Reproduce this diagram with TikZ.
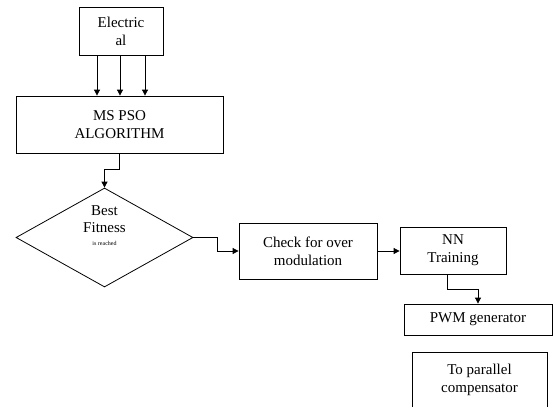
\documentclass[tikz,border=0pt]{standalone}
\usepackage{fontspec}
\setmainfont{Liberation Serif}
\usetikzlibrary{shapes.geometric, arrows.meta}

\begin{document}
\begin{tikzpicture}[->, >={Triangle[length=6pt, width=6pt]}, x=1pt, y=-1pt,
    block/.style={draw, thick, rectangle, align=center, inner sep=0pt,
      font=\fontsize{15}{18}\selectfont}]
    \useasboundingbox (0, 0) rectangle (557, 407);
    \node[block, minimum width=84pt, minimum height=48pt] at (121, 31) (elec)
      {Electric\\al};
    \node[block, minimum width=207pt, minimum height=57pt] at (119.5, 124.5) (algo)
      {MS PSO\\ALGORITHM};
    \node[draw, thick, diamond, aspect=1.79, minimum width=177pt,
      minimum height=99pt, inner sep=0pt,
      label={[align=center, yshift=12pt, font=\fontsize{15}{17}\selectfont]center:
        Best\\Fitness\\[-4pt]{\fontsize{6}{7}\selectfont is reached}}]
      at (104.5, 237.5) (best) {};
    \node[block, minimum width=138pt, minimum height=56pt] at (308, 251) (check)
      {Check for over\\modulation};
    \node[block, minimum width=106pt, minimum height=47pt] at (453, 250.5) (nn)
      {NN\\Training};
    \node[block, minimum width=148pt, minimum height=31pt] at (478, 319.5) (pwm)
      {PWM generator};
    \node[block, minimum width=135pt, minimum height=55pt] at (479.5, 379.5) (comp)
      {To parallel\\compensator};
    % inputs into the algorithm
    \foreach \dx in {-24, -1, 24}
      \draw[thick] ([xshift=\dx pt]elec.south) -- ([xshift=\dx pt]elec.south |- algo.north);
    \draw[thick] (algo.south) -- ++(0, 16) -| (best.north);
    \draw[thick] (best.east) -- ++(24, 0) |- (check.west);
    \draw[thick] (check.east) -- (check.east -| nn.west);
    \draw[thick] ([xshift=-6pt]nn.south) -- ++(0, 15) -| (pwm.north);
  \end{tikzpicture}
\end{document}
